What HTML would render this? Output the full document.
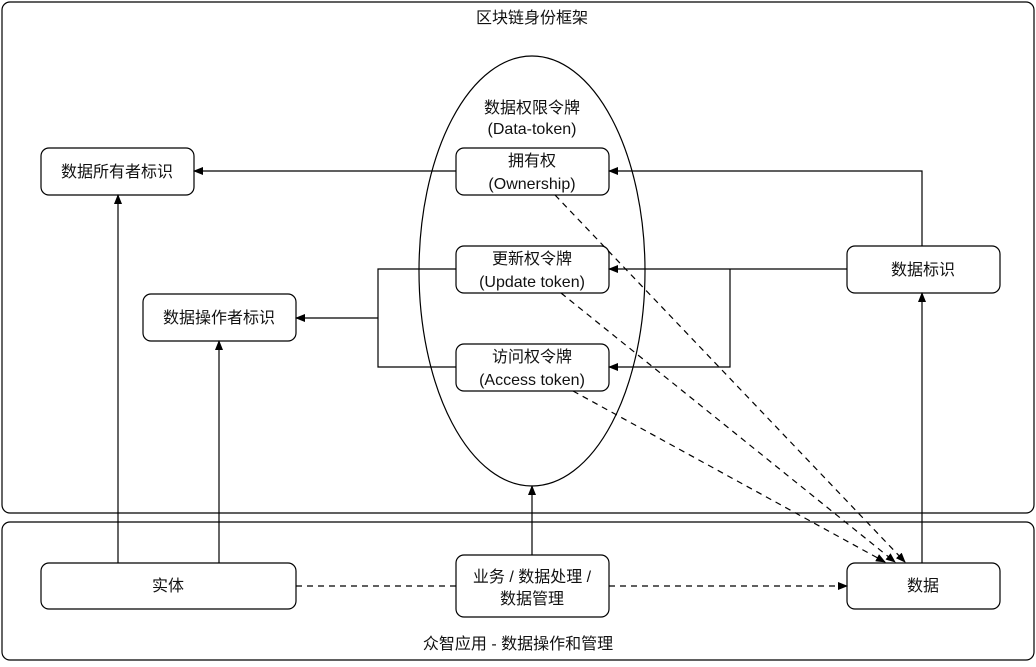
<!DOCTYPE html>
<html><head><meta charset="utf-8"><style>
html,body{margin:0;padding:0;background:#fff;}
text{font-family:"Liberation Sans","Noto Sans CJK SC",sans-serif;font-size:16px;fill:#111;text-anchor:middle;}
</style></head><body>
<svg width="1036" height="662" viewBox="0 0 1036 662" xmlns="http://www.w3.org/2000/svg">
<defs><marker id="a" markerWidth="10" markerHeight="8" refX="9" refY="4" orient="auto" markerUnits="userSpaceOnUse"><path d="M0,0 L10,4 L0,8 Z" fill="#000"/></marker></defs>
<g fill="none" stroke="#000" stroke-width="1.2">
<rect x="2" y="2" width="1032" height="511" rx="8"/>
<rect x="2" y="522" width="1032" height="138" rx="8"/>
<ellipse cx="532" cy="271" rx="113" ry="215"/>
<rect x="456" y="148" width="153" height="47" rx="8"/>
<rect x="456" y="246" width="153" height="47" rx="8"/>
<rect x="456" y="344" width="153" height="47" rx="8"/>
<rect x="41" y="148" width="153" height="47" rx="8"/>
<rect x="143" y="294" width="153" height="47" rx="8"/>
<rect x="847" y="246" width="153" height="47" rx="8"/>
<rect x="41" y="563" width="255" height="46" rx="8"/>
<rect x="456" y="555" width="153" height="62" rx="8"/>
<rect x="847" y="563" width="153" height="46" rx="8"/>
<path d="M456,171 H194" marker-end="url(#a)"/>
<path d="M922,246 V171 H609" marker-end="url(#a)"/>
<path d="M847,269 H609" marker-end="url(#a)"/>
<path d="M730,269 V367 H609" marker-end="url(#a)"/>
<path d="M456,269 H378 V367 H456"/>
<path d="M378,318 H296" marker-end="url(#a)"/>
<path d="M118,563 V195" marker-end="url(#a)"/>
<path d="M219,563 V341" marker-end="url(#a)"/>
<path d="M922,563 V293" marker-end="url(#a)"/>
<path d="M532,555 V486" marker-end="url(#a)"/>
<g stroke-dasharray="6,5">
<path d="M296,586 H456"/>
<path d="M609,586 H847" marker-end="url(#a)"/>
<path d="M555,195 L905,562" marker-end="url(#a)"/>
<path d="M561,293 L895,562" marker-end="url(#a)"/>
<path d="M573,391 L885,562" marker-end="url(#a)"/>
</g>
</g>
<text x="532" y="23">区块链身份框架</text>
<text x="532" y="113">数据权限令牌</text>
<text x="532" y="134">(Data-token)</text>
<text x="532" y="166">拥有权</text>
<text x="532" y="189">(Ownership)</text>
<text x="532" y="264">更新权令牌</text>
<text x="532" y="287">(Update token)</text>
<text x="532" y="362">访问权令牌</text>
<text x="532" y="385">(Access token)</text>
<text x="117" y="177">数据所有者标识</text>
<text x="219" y="323">数据操作者标识</text>
<text x="923" y="275">数据标识</text>
<text x="168" y="591">实体</text>
<text x="532" y="582">业务 / 数据处理 /</text>
<text x="532" y="604">数据管理</text>
<text x="923" y="591">数据</text>
<text x="518" y="649">众智应用 - 数据操作和管理</text>
</svg>
</body></html>
